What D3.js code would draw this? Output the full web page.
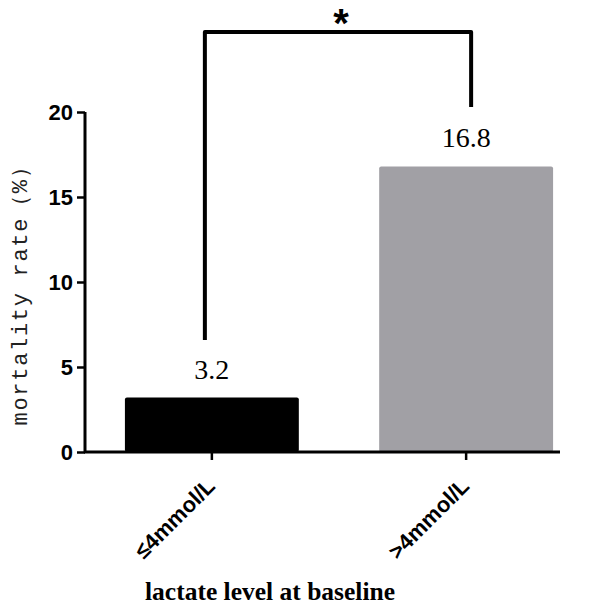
<!DOCTYPE html>
<html><head><meta charset="utf-8">
<script src="https://cdn.jsdelivr.net/npm/d3@7"></script>
<style>body{margin:0;background:#fff}</style>
</head><body>
<svg id="c" width="595" height="606"></svg>
<script>
const categories = ["≤4mmol/L", ">4mmol/L"];
const values = [3.2, 16.8];
const valueLabels = ["3.2", "16.8"];
const colors = ["#000000", "#a1a0a5"];
const yTicks = [0, 5, 10, 15, 20];
const yTitle = "mortality rate（%）";
const xTitle = "lactate level at baseline";
const sigMark = "*";

const svg = d3.select("#c");
const x0 = 85, x1 = 560, yTop = 112, yBot = 452;
const y = d3.scaleLinear().domain([0, 20]).range([yBot, yTop]);
const x = d3.scaleBand().domain(categories).range([x0, 593]).paddingInner(0.316).paddingOuter(0.157);
const xc = c => x(c) + x.bandwidth() / 2;

// bars
svg.selectAll("rect.bar").data(values).enter().append("rect")
  .attr("x", (d, i) => x(categories[i])).attr("y", d => y(d))
  .attr("width", x.bandwidth()).attr("height", d => yBot - y(d))
  .attr("rx", 2).attr("fill", (d, i) => colors[i]);

// y axis
const ya = svg.append("g").attr("transform", `translate(${x0},0)`)
  .call(d3.axisLeft(y).tickValues(yTicks).tickSize(8).tickPadding(4).tickFormat(d3.format("d")));
ya.select(".domain").attr("stroke", "#000").attr("stroke-width", 3).attr("d", `M0,${yTop}V${yBot + 1}`);
ya.selectAll(".tick line").attr("stroke-width", 2.5);
ya.selectAll(".tick text").attr("font-family", "Liberation Sans, Arial, sans-serif")
  .attr("font-weight", "bold").attr("font-size", 22).attr("fill", "#000").attr("dy", "0.36em");

// x axis
const xa = svg.append("g").attr("transform", `translate(0,${yBot})`)
  .call(d3.axisBottom(x).tickSize(8).tickSizeOuter(0));
xa.select(".domain").attr("stroke", "#000").attr("stroke-width", 3).attr("d", `M${x0 - 1},0H${x1}`);
xa.selectAll(".tick line").attr("stroke-width", 2.5);
xa.selectAll(".tick text").attr("font-family", "Liberation Sans, Arial, sans-serif")
  .attr("font-weight", "bold").attr("font-size", 22).attr("fill", "#000")
  .attr("text-anchor", "end").attr("transform", "translate(-1,30) rotate(-45)").attr("dy", "0.35em").attr("y", 0);

// value labels
svg.selectAll("text.val").data(values).enter().append("text")
  .attr("x", (d, i) => xc(categories[i])).attr("y", d => y(d) - 19)
  .attr("text-anchor", "middle").attr("font-family", "Liberation Serif, Times New Roman, serif")
  .attr("font-size", 28).text((d, i) => valueLabels[i]);

// bracket
const bl = xc(categories[0]) - 7, br = xc(categories[1]) + 5, by = 32;
svg.append("path").attr("d", `M${bl},340V${by}H${br}V107`)
  .attr("fill", "none").attr("stroke", "#000").attr("stroke-width", 4).attr("stroke-linejoin", "round");
svg.append("text").attr("x", (bl + br) / 2 + 3).attr("y", 37).attr("text-anchor", "middle")
  .attr("font-family", "Liberation Sans, Arial, sans-serif").attr("font-weight", "bold").attr("font-size", 40).text(sigMark);

// titles
svg.append("text").attr("transform", `translate(27,290) rotate(-90)`)
  .attr("text-anchor", "middle").attr("font-family", "Liberation Mono, DejaVu Sans Mono, monospace")
  .attr("font-size", 22).attr("letter-spacing", 1.7).attr("fill", "#222").text(yTitle);
svg.append("text").attr("x", 270).attr("y", 600).attr("text-anchor", "middle")
  .attr("font-family", "Liberation Serif, Times New Roman, serif").attr("font-weight", "bold")
  .attr("font-size", 25.5).text(xTitle);
</script>
</body></html>
